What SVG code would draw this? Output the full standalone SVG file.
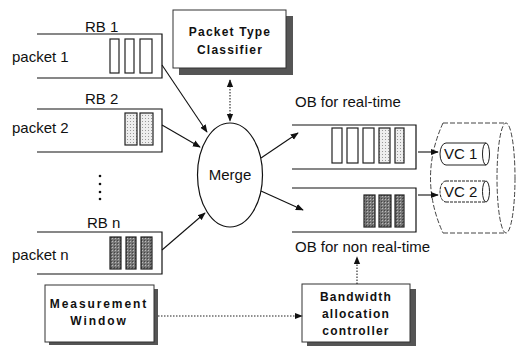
<svg xmlns="http://www.w3.org/2000/svg" width="524" height="347" viewBox="0 0 524 347">
<style>
.t{font-family:"Liberation Sans",Arial,sans-serif;font-size:15px;fill:#111}
.b{font-family:"Liberation Sans",Arial,sans-serif;font-size:12px;font-weight:bold;fill:#111;letter-spacing:1.2px;text-anchor:middle}
.buf{fill:none;stroke:#111;stroke-width:1.2}
.cw{fill:#fff;stroke:#222;stroke-width:1.2}
.cl{fill:url(#lt);stroke:#222;stroke-width:1.2}
.cd{fill:url(#dk);stroke:#222;stroke-width:1.2}
.box{fill:#fff;stroke:#333;stroke-width:1}
.sh{fill:#555}
.ar{fill:none;stroke:#111;stroke-width:1.1;marker-end:url(#ah)}
.da{fill:none;stroke:#222;stroke-width:1.1;stroke-dasharray:1.5 1.5;marker-end:url(#ah)}
.cy{fill:none;stroke:#444;stroke-width:1;stroke-dasharray:5 2}
</style>
<defs>
<marker id="ah" viewBox="0 0 10 10" refX="9" refY="5" markerWidth="8" markerHeight="8" markerUnits="userSpaceOnUse" orient="auto-start-reverse">
<path d="M0,1 L10,5 L0,9 Z" fill="#111"/>
</marker>
<pattern id="lt" width="3" height="3" patternUnits="userSpaceOnUse">
<rect width="3" height="3" fill="#eee"/>
<rect x="1" y="1" width="1" height="1" fill="#999"/>
</pattern>
<pattern id="dk" width="3" height="3" patternUnits="userSpaceOnUse">
<rect width="3" height="3" fill="#777"/>
<rect x="1" y="1" width="1" height="1" fill="#bbb"/>
<rect x="0" y="0" width="1" height="1" fill="#444"/>
</pattern>
</defs>

<g id="rb1">
<text class="t" x="85" y="32">RB 1</text>
<text class="t" x="12" y="62">packet 1</text>
<path class="buf" d="M37,34 H162 V78 H37"/>
<rect class="cw" x="110" y="39" width="9" height="34"/>
<rect class="cw" x="125" y="39" width="9" height="34"/>
<rect class="cw" x="140" y="39" width="12" height="34"/>
</g>

<g id="rb2">
<text class="t" x="85" y="104">RB 2</text>
<text class="t" x="12" y="133">packet 2</text>
<path class="buf" d="M37,109 H162 V152 H37"/>
<rect class="cl" x="125" y="113" width="12" height="32"/>
<rect class="cl" x="140" y="113" width="13" height="32"/>
</g>

<g id="dots" fill="#111">
<circle cx="100" cy="176" r="1.3"/>
<circle cx="100" cy="184" r="1.3"/>
<circle cx="100" cy="192" r="1.3"/>
<circle cx="100" cy="199" r="1.3"/>
</g>

<g id="rbn">
<text class="t" x="87" y="228">RB n</text>
<text class="t" x="12" y="260">packet n</text>
<path class="buf" d="M37,232 H162 V274 H37"/>
<rect class="cd" x="110" y="237" width="11" height="32"/>
<rect class="cd" x="126" y="237" width="10" height="32"/>
<rect class="cd" x="141" y="237" width="11" height="32"/>
</g>

<g id="classifier">
<rect class="sh" x="179" y="16" width="114" height="59"/>
<rect class="box" x="173" y="10" width="113" height="58"/>
<text class="b" x="230" y="36">Packet Type</text>
<text class="b" x="230" y="54">Classifier</text>
</g>

<g id="merge">
<ellipse cx="230" cy="175" rx="32.5" ry="52" fill="#fff" stroke="#111" stroke-width="1.2"/>
<text class="t" x="230" y="180" text-anchor="middle">Merge</text>
</g>

<g id="ob-rt">
<text class="t" x="295" y="107">OB for real-time</text>
<path class="buf" d="M292,125 H416 V169 H292"/>
<rect class="cw" x="332" y="128" width="10" height="35"/>
<rect class="cw" x="347" y="128" width="11" height="35"/>
<rect class="cw" x="363" y="128" width="11" height="35"/>
<rect class="cl" x="379" y="128" width="11" height="35"/>
<rect class="cl" x="395" y="128" width="9" height="35"/>
</g>

<g id="ob-nrt">
<path class="buf" d="M292,188 H416 V232 H292"/>
<rect class="cd" x="364" y="195" width="11" height="32"/>
<rect class="cd" x="379" y="195" width="12" height="32"/>
<rect class="cd" x="395" y="195" width="9" height="32"/>
<text class="t" x="295" y="252">OB for non real-time</text>
</g>

<g id="link">
<path class="cy" d="M443,123 H506 M443,233 H506 M443,123 Q418,178 443,233"/>
<ellipse class="cy" cx="506" cy="178" rx="9" ry="55"/>
</g>

<g id="vc1">
<path d="M446,143 H486 M446,165 H486 M446,143 A6,11 0 0 0 446,165" fill="none" stroke="#222" stroke-width="1"/>
<ellipse cx="486" cy="154" rx="3.5" ry="11" fill="none" stroke="#222" stroke-width="1"/>
<text class="t" x="444" y="159">VC 1</text>
</g>

<g id="vc2">
<path d="M446,181 H486 M446,202 H486 M446,181 A6,10.5 0 0 0 446,202" fill="none" stroke="#222" stroke-width="1" stroke-dasharray="3 1"/>
<ellipse cx="486" cy="191.5" rx="3.5" ry="10.5" fill="none" stroke="#222" stroke-width="1"/>
<text class="t" x="444" y="197">VC 2</text>
</g>

<g id="measurement">
<rect class="sh" x="49" y="289" width="109" height="56"/>
<rect class="box" x="45" y="285" width="109" height="57"/>
<text class="b" x="99" y="308" style="letter-spacing:1.9px">Measurement</text>
<text class="b" x="99" y="325" style="letter-spacing:1.9px">Window</text>
</g>

<g id="bandwidth">
<rect class="sh" x="307" y="289" width="109" height="57"/>
<rect class="box" x="302" y="284" width="108" height="58"/>
<text class="b" x="356" y="301">Bandwidth</text>
<text class="b" x="356" y="318">allocation</text>
<text class="b" x="356" y="335">controller</text>
</g>

<g id="connectors">
<path class="ar" d="M162,65 L207,132"/>
<path class="ar" d="M162,125 L200,147"/>
<path class="ar" d="M162,250 L205,213"/>
<path class="ar" d="M261,158 L298,133"/>
<path class="ar" d="M261,191 L303,210"/>
<path class="da" d="M230,80 L230,121" marker-start="url(#ah)"/>
<path class="ar" d="M418,152 L438,152"/>
<path class="ar" d="M418,195 L438,195"/>
<path class="da" d="M357,284 L357,257"/>
<path class="da" d="M158,316 L302,316"/>
</g>
</svg>
